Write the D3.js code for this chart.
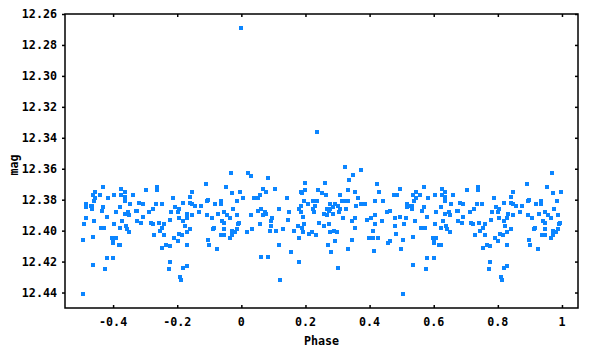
<!DOCTYPE html>
<html>
<head>
<meta charset="utf-8">
<script src="https://cdn.jsdelivr.net/npm/d3@7"></script>
<style>
  body { margin: 0; background: #fff; }
  text { font-family: "DejaVu Sans Mono", monospace; font-weight: bold; font-size: 11.7px; fill: #000; }
</style>
</head>
<body>
<div id="graph"></div>
<script>
//phase folded light curve, phase 0..1 (points with phase >= 0.5 are shown again at phase - 1)
const phase = [
  0.000, 0.236,
  0.022, 0.031, 0.084, 0.199, 0.069, 0.106, 0.199, 0.238, 0.078, 0.187, 0.190, 0.059, 0.006, 0.041,
  0.053, 0.143, 0.196, 0.224, 0.237, 0.187, 0.209, 0.231, 0.062, 0.118, 0.053, 0.181, 0.187, 0.224,
  0.228, 0.075, 0.069, 0.078, 0.150, 0.031, 0.193, 0.097, 0.147, 0.094, 0.059, 0.243, 0.196, 0.094,
  0.178, 0.190, 0.034, 0.131, 0.090, 0.109, 0.165, 0.019, 0.193, 0.221, 0.212, 0.234, 0.181, 0.118,
  0.156, 0.062, 0.084, 0.181, 0.122,
  0.324, 0.374, 0.349, 0.337, 0.262, 0.424, 0.333, 0.430, 0.355, 0.252, 0.495, 0.265, 0.309, 0.477,
  0.486, 0.365, 0.315, 0.321, 0.333, 0.418, 0.442, 0.277, 0.293, 0.287, 0.302, 0.358, 0.374, 0.386,
  0.268, 0.277, 0.309, 0.327, 0.274, 0.305, 0.464, 0.455, 0.259, 0.268, 0.287, 0.418, 0.480, 0.495,
  0.318, 0.355, 0.405, 0.393, 0.439, 0.346, 0.274, 0.418, 0.259, 0.480, 0.355, 0.290, 0.411, 0.277,
  0.299, 0.483, 0.427, 0.399, 0.411, 0.346, 0.464, 0.458, 0.271, 0.293, 0.333, 0.414, 0.499, 0.280,
  0.302,
  0.570, 0.626, 0.636, 0.704, 0.738, 0.738, 0.545, 0.536, 0.558, 0.604, 0.626, 0.636, 0.661, 0.583,
  0.545, 0.636, 0.539, 0.682, 0.692, 0.735, 0.751, 0.517, 0.517, 0.530, 0.533, 0.654, 0.570, 0.623,
  0.533, 0.564, 0.608, 0.648, 0.673, 0.676, 0.726, 0.713, 0.636, 0.651, 0.514, 0.580, 0.692, 0.629,
  0.542, 0.676, 0.688, 0.717, 0.742, 0.508, 0.604, 0.639, 0.723, 0.561, 0.573, 0.623, 0.754, 0.642,
  0.651, 0.745, 0.729, 0.536, 0.598, 0.608, 0.601, 0.601, 0.505, 0.617, 0.623, 0.754, 0.601, 0.580,
  0.536, 0.576, 0.505,
  0.969, 0.891, 0.953, 0.997, 0.847, 0.972, 0.788, 0.841, 0.897, 0.894, 0.985, 0.819, 0.841, 0.847,
  0.935, 0.935, 0.919, 0.794, 0.804, 0.857, 0.875, 0.975, 0.782, 0.801, 0.832, 0.869, 0.947, 0.928,
  0.894, 0.988, 0.847, 0.829, 0.956, 0.779, 0.804, 0.819, 0.907, 0.966, 0.941, 0.947, 0.994, 0.760,
  0.823, 0.991, 0.916, 0.913, 0.988, 0.841, 0.947, 0.972, 0.981, 0.829, 0.807, 0.816, 0.760, 0.938,
  0.947, 0.972, 0.966, 0.791, 0.897, 0.801, 0.900, 0.766, 0.776, 0.829, 0.925, 0.776, 0.829, 0.819,
  0.773, 0.810, 0.813
];
const mag = [
  12.269, 12.336,
  12.363, 12.365, 12.366, 12.369, 12.373, 12.373, 12.374, 12.374, 12.375, 12.375, 12.376, 12.377, 12.379, 12.379,
  12.379, 12.379, 12.381, 12.381, 12.381, 12.384, 12.383, 12.384, 12.386, 12.386, 12.387, 12.386, 12.388, 12.386,
  12.388, 12.388, 12.390, 12.389, 12.388, 12.390, 12.391, 12.392, 12.393, 12.394, 12.396, 12.395, 12.396, 12.397,
  12.397, 12.398, 12.399, 12.399, 12.400, 12.400, 12.400, 12.401, 12.401, 12.401, 12.402, 12.403, 12.405, 12.409,
  12.414, 12.417, 12.417, 12.420, 12.432,
  12.359, 12.361, 12.364, 12.367, 12.369, 12.370, 12.374, 12.375, 12.375, 12.376, 12.373, 12.377, 12.377, 12.377,
  12.377, 12.379, 12.381, 12.381, 12.381, 12.381, 12.381, 12.383, 12.383, 12.385, 12.384, 12.384, 12.383, 12.383,
  12.386, 12.386, 12.386, 12.386, 12.387, 12.388, 12.387, 12.388, 12.389, 12.390, 12.389, 12.390, 12.392, 12.391,
  12.392, 12.392, 12.392, 12.393, 12.394, 12.394, 12.396, 12.396, 12.397, 12.397, 12.398, 12.400, 12.400, 12.401,
  12.401, 12.402, 12.405, 12.405, 12.405, 12.406, 12.407, 12.408, 12.409, 12.407, 12.412, 12.413, 12.412, 12.414,
  12.424,
  12.372, 12.373, 12.375, 12.374, 12.372, 12.374, 12.375, 12.377, 12.377, 12.377, 12.377, 12.378, 12.377, 12.379,
  12.379, 12.381, 12.381, 12.382, 12.383, 12.383, 12.383, 12.383, 12.385, 12.384, 12.384, 12.383, 12.385, 12.385,
  12.386, 12.387, 12.388, 12.388, 12.387, 12.387, 12.386, 12.388, 12.389, 12.390, 12.392, 12.391, 12.391, 12.394,
  12.394, 12.394, 12.395, 12.395, 12.395, 12.396, 12.396, 12.397, 12.396, 12.398, 12.398, 12.398, 12.398, 12.399,
  12.401, 12.400, 12.403, 12.404, 12.405, 12.405, 12.407, 12.408, 12.406, 12.409, 12.409, 12.411, 12.418, 12.418,
  12.422, 12.425, 12.441,
  12.363, 12.370, 12.372, 12.375, 12.375, 12.376, 12.379, 12.378, 12.380, 12.381, 12.381, 12.382, 12.382, 12.383,
  12.381, 12.383, 12.383, 12.385, 12.386, 12.384, 12.384, 12.386, 12.388, 12.388, 12.389, 12.388, 12.388, 12.389,
  12.390, 12.390, 12.390, 12.392, 12.390, 12.393, 12.392, 12.394, 12.392, 12.392, 12.394, 12.395, 12.395, 12.396,
  12.397, 12.396, 12.398, 12.399, 12.399, 12.399, 12.399, 12.400, 12.401, 12.401, 12.402, 12.403, 12.403, 12.403,
  12.403, 12.403, 12.405, 12.405, 12.406, 12.407, 12.409, 12.409, 12.410, 12.409, 12.412, 12.420, 12.423, 12.424,
  12.425, 12.430, 12.432
];

const xTicks = [-0.4, -0.2, 0, 0.2, 0.4, 0.6, 0.8, 1];
const yTicks = [12.26, 12.28, 12.30, 12.32, 12.34, 12.36, 12.38, 12.40, 12.42, 12.44];

//points, with the second half of the cycle repeated before phase 0
let points = [];
for (let i = 0; i < phase.length; i++) {
  points.push({p: phase[i], m: mag[i]});
  if (phase[i] >= 0.5) {
    points.push({p: phase[i] - 1, m: mag[i]});
  }
}

const w = 600;
const h = 350;
const plotLeft = 65, plotRight = 578, plotTop = 14, plotBottom = 308;

const x = d3.scaleLinear().domain([-0.55, 1.05]).range([plotLeft, plotRight]);
const y = d3.scaleLinear().domain([12.26, 12.45]).range([plotTop, plotBottom]); // mag is inverted

const svg = d3.select("#graph")
  .append("svg")
  .attr("width", w)
  .attr("height", h)
  .style("background", "#fff");

//points
svg.append("g")
  .selectAll("rect")
  .data(points)
  .enter()
  .append("rect")
  .attr("x", (d) => Math.round(x(d.p)) - 2)
  .attr("y", (d) => Math.round(y(d.m)) - 2)
  .attr("width", 4)
  .attr("height", 4)
  .style("fill", "#0b85ff");

//axes: left ticks outside, the others inside
const yAxis = svg.append("g")
  .attr("transform", `translate(${plotLeft},0)`)
  .call(d3.axisLeft(y).tickValues(yTicks).tickFormat(d3.format(".2f")).tickSize(3).tickPadding(5));
const yAxisRight = svg.append("g")
  .attr("transform", `translate(${plotRight},0)`)
  .call(d3.axisLeft(y).tickValues(yTicks).tickFormat("").tickSize(3));
const xAxis = svg.append("g")
  .attr("transform", `translate(0,${plotBottom})`)
  .call(d3.axisTop(x).tickValues(xTicks).tickFormat("").tickSize(3));
const xAxisTop = svg.append("g")
  .attr("transform", `translate(0,${plotTop})`)
  .call(d3.axisBottom(x).tickValues(xTicks).tickFormat("").tickSize(3));

svg.selectAll(".domain").remove();
svg.selectAll(".tick line").attr("stroke", "#000").attr("stroke-width", 1.5);
yAxis.selectAll("text").attr("font-size", null).attr("font-family", null);

//x tick labels below the frame
svg.append("g")
  .selectAll("text")
  .data(xTicks)
  .enter()
  .append("text")
  .attr("x", (d) => x(d))
  .attr("y", 326)
  .attr("text-anchor", "middle")
  .text((d) => String(d));

//frame
svg.append("rect")
  .attr("x", plotLeft)
  .attr("y", plotTop)
  .attr("width", plotRight - plotLeft)
  .attr("height", plotBottom - plotTop)
  .style("fill", "none")
  .style("stroke", "#000")
  .style("stroke-width", 1.5);

//axis titles
svg.append("text")
  .attr("x", (plotLeft + plotRight) / 2)
  .attr("y", 345)
  .attr("text-anchor", "middle")
  .text("Phase");
svg.append("text")
  .attr("transform", "translate(18,165) rotate(-90)")
  .attr("text-anchor", "middle")
  .text("mag");
</script>
</body>
</html>
